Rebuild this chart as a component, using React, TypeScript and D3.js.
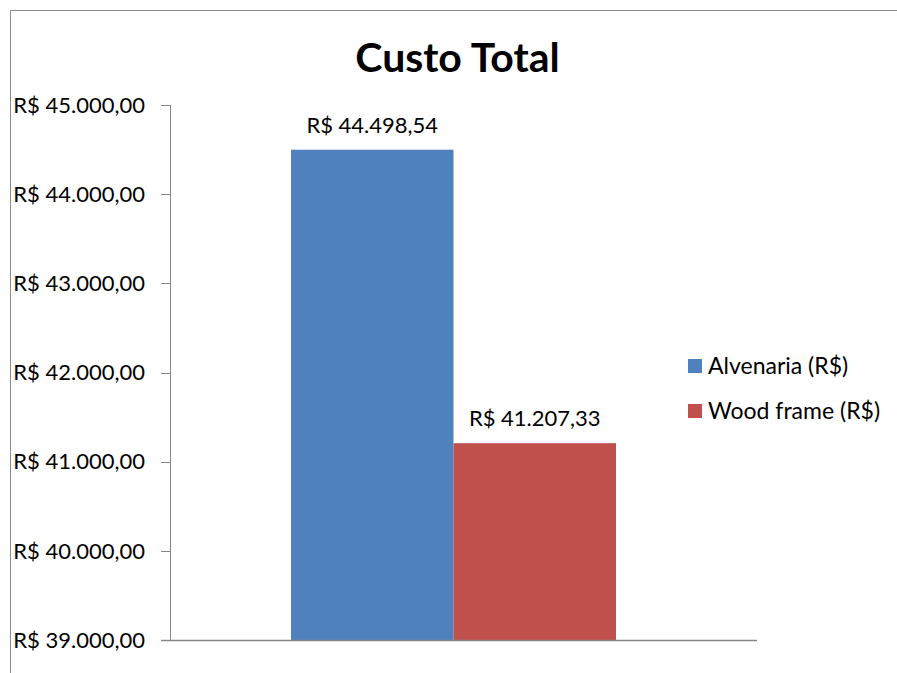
import React from "react";
import * as d3 from "d3";

const title = "Custo Total";
const seriesNames = ["Alvenaria (R$)", "Wood frame (R$)"];
const seriesValues = [44498.54, 41207.33];
const seriesColors = ["#4F81BD", "#C0504D"];
const yTicks = [39000, 40000, 41000, 42000, 43000, 44000, 45000];

const W = 897;
const H = 673;
const FONT = "Lato, 'Open Sans', sans-serif";

const fmt = (v: number) => {
  const [i, d] = v.toFixed(2).split(".");
  const withDots = i.replace(/\B(?=(\d{3})+(?!\d))/g, ".");
  return `R$ ${withDots},${d}`;
};

export default function App() {
  const y = d3.scaleLinear().domain([39000, 45000]).range([640, 105]);
  const x = d3.scaleBand<string>().domain(seriesNames).range([291, 616]).paddingInner(0);
  const axisX0 = 170;
  const axisX1 = 757;
  return (
    <svg
      width={W}
      height={H}
      style={{ position: "absolute", left: 0, top: 0, background: "#fff" }}
      fontFamily={FONT}
    >
      <rect x={0} y={0} width={W} height={H} fill="#fff" />
      {/* chart frame */}
      <path d={`M10.5,${H + 2} V10.5 H${W + 2}`} fill="none" stroke="#8c8c8c" strokeWidth={1} />
      <text x={457.5} y={71.5} textAnchor="middle" fontSize={41} fontWeight="bold" fill="#000">
        {title}
      </text>
      {/* bars */}
      {seriesNames.map((s, i) => (
        <rect
          key={s}
          x={x(s)}
          y={y(seriesValues[i])}
          width={x.bandwidth()}
          height={y(39000) - y(seriesValues[i])}
          fill={seriesColors[i]}
        />
      ))}
      {/* data labels */}
      {seriesNames.map((s, i) => (
        <text
          key={s + "l"}
          x={(x(s) as number) + x.bandwidth() / 2}
          y={y(seriesValues[i]) - 17}
          textAnchor="middle"
          fontSize={22}
          fill="#000"
        >
          {fmt(seriesValues[i])}
        </text>
      ))}
      {/* y axis */}
      <line x1={axisX0 + 0.5} x2={axisX0 + 0.5} y1={y(45000)} y2={y(39000)} stroke="#868686" />
      {yTicks.map((t) => (
        <g key={t}>
          <line x1={161} x2={axisX0} y1={Math.round(y(t)) + 0.5} y2={Math.round(y(t)) + 0.5} stroke="#868686" />
          <text x={145} y={y(t)} dy="0.35em" textAnchor="end" fontSize={22} fill="#000">
            {fmt(t)}
          </text>
        </g>
      ))}
      {/* x axis */}
      <line x1={161} x2={axisX1} y1={Math.round(y(39000)) + 0.5} y2={Math.round(y(39000)) + 0.5} stroke="#868686" strokeWidth={1.5} />
      {/* legend */}
      {seriesNames.map((s, i) => (
        <g key={s + "g"} transform={`translate(688, ${366 + i * 45})`}>
          <rect x={0} y={-7} width={14} height={14} fill={seriesColors[i]} />
          <text x={20} y={0} dy="0.35em" fontSize={23} fill="#000">
            {s}
          </text>
        </g>
      ))}
    </svg>
  );
}
